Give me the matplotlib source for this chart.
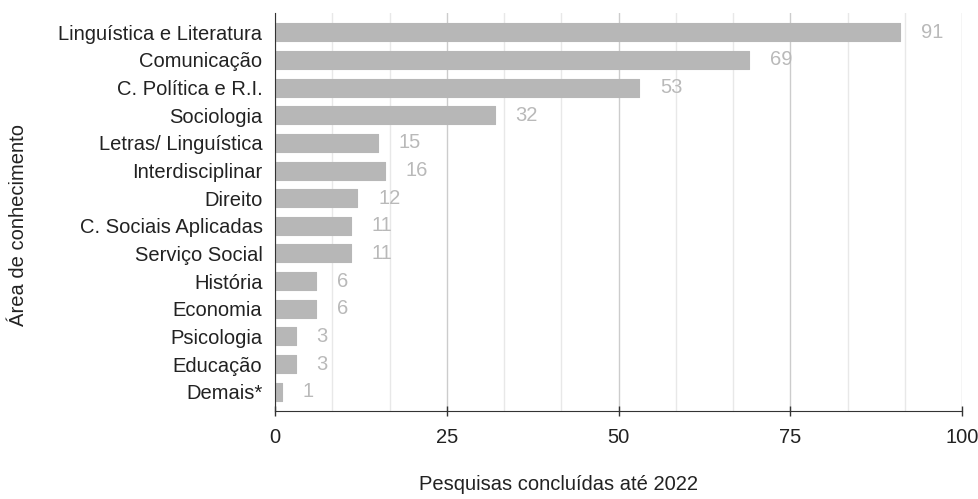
import matplotlib.pyplot as plt
from matplotlib.ticker import MultipleLocator

plt.rcParams['font.family'] = ['Liberation Sans', 'DejaVu Sans']

areas = ["Linguística e Literatura", "Comunicação", "C. Política e R.I.", "Sociologia",
         "Letras/ Linguística", "Interdisciplinar", "Direito", "C. Sociais Aplicadas",
         "Serviço Social", "História", "Economia", "Psicologia", "Educação", "Demais*"]
counts = [91, 69, 53, 32, 15, 16, 12, 11, 11, 6, 6, 3, 3, 1]

bar_color = "#b7b7b7"
label_color = "#b9b9b9"
text_color = "#222222"
fs = 14.5

fig = plt.figure(figsize=(9.79, 4.99), dpi=100)
ax = fig.add_axes([275 / 979, 88 / 499, 687 / 979, 398 / 499])

ypos = list(range(len(areas)))
ax.barh(ypos, counts, height=0.65, color=bar_color, edgecolor=bar_color,
        linewidth=0.8, joinstyle="round", zorder=3)

for y, v in zip(ypos, counts):
    ax.annotate(str(v), (v, y), xytext=(15, 0), textcoords="offset points",
                va="center", ha="left", fontsize=fs, color=label_color, zorder=4)

ax.set_xlim(0, 100)
ax.set_ylim(len(areas) - 0.3, -0.7)
ax.xaxis.set_major_locator(MultipleLocator(25))
ax.xaxis.set_minor_locator(MultipleLocator(25 / 3))
ax.grid(axis="x", which="major", color="#cccccc", linewidth=1, zorder=0)
ax.grid(axis="x", which="minor", color="#e8e8e8", linewidth=1, zorder=0)

ax.set_yticks(ypos)
ax.set_yticklabels(areas, fontsize=fs, color=text_color)
ax.tick_params(axis="y", length=0, pad=9)
ax.tick_params(axis="x", which="major", direction="inout", length=7, width=1,
               color="#333333", labelsize=fs, labelcolor=text_color, pad=9)
ax.tick_params(axis="x", which="minor", length=0)

for side in ["top", "right"]:
    ax.spines[side].set_visible(False)
ax.spines["left"].set_color("#333333")
ax.spines["bottom"].set_color("#333333")
ax.spines["left"].set_zorder(5)

fig.text(559 / 979, 5 / 499, "Pesquisas concluídas até 2022", ha="center", va="bottom",
         fontsize=fs, color=text_color)
fig.text(19 / 979, 1 - 225 / 499, "Área de conhecimento", ha="center", va="center",
         rotation=90, fontsize=fs, color=text_color)

fig.savefig("out.png", dpi=100, facecolor="white")
